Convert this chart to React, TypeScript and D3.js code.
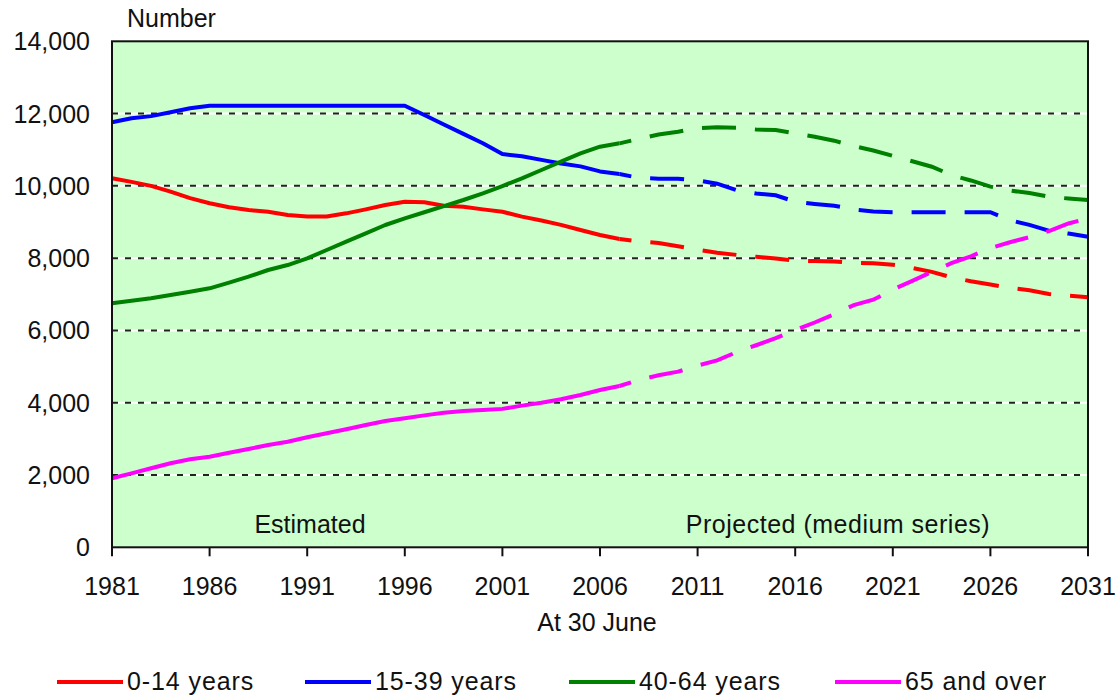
import React from "react";
import * as d3 from "d3";

const estYears = [1981,1982,1983,1984,1985,1986,1987,1988,1989,1990,1991,1992,1993,1994,1995,1996,1997,1998,1999,2000,2001,2002,2003,2004,2005,2006,2007];
const projYears = [2007,2008,2009,2010,2011,2012,2013,2014,2015,2016,2017,2018,2019,2020,2021,2022,2023,2024,2025,2026,2027,2028,2029,2030,2031];

const est0_14 = [10210,10110,10000,9840,9660,9520,9410,9330,9285,9195,9150,9150,9240,9350,9470,9560,9545,9450,9420,9350,9285,9150,9040,8920,8780,8640,8530];
const est15_39 = [11760,11870,11930,12035,12146,12218,12218,12218,12218,12218,12218,12218,12218,12218,12218,12218,11960,11700,11440,11180,10880,10820,10720,10620,10540,10400,10330];
const est40_64 = [6750,6823,6890,6980,7072,7165,7322,7488,7672,7810,7995,8226,8455,8687,8917,9102,9270,9440,9609,9794,9996,10209,10439,10669,10900,11084,11177];
const est65 = [1910,2047,2186,2324,2435,2507,2617,2720,2830,2922,3043,3154,3265,3384,3494,3569,3650,3720,3770,3800,3830,3920,4000,4095,4214,4352,4463];

const proj0_14 = [8530,8460,8420,8330,8230,8150,8090,8040,7990,7930,7920,7910,7870,7860,7820,7730,7620,7470,7360,7270,7180,7110,7010,6960,6920];
const proj15_39 = [10330,10220,10200,10200,10155,10060,9880,9790,9740,9560,9500,9450,9350,9290,9270,9270,9270,9270,9270,9270,9050,8920,8760,8680,8590];
const proj40_64 = [11177,11300,11420,11500,11600,11620,11610,11560,11545,11450,11360,11250,11100,10980,10830,10680,10530,10300,10150,9980,9870,9800,9700,9650,9610];
const proj65 = [4463,4630,4760,4860,5030,5170,5400,5590,5790,6010,6220,6450,6700,6850,7130,7370,7620,7860,8050,8280,8440,8580,8750,8960,9100];

const seriesNames = ["0-14 years", "15-39 years", "40-64 years", "65 and over"];
const seriesColors = ["#ff0000", "#0000ff", "#008000", "#ff00ff"];
const estSeries = [est0_14, est15_39, est40_64, est65];
const projSeries = [proj0_14, proj15_39, proj40_64, proj65];

const xTicks = [1981,1986,1991,1996,2001,2006,2011,2016,2021,2026,2031];
const yTicks = [0,2000,4000,6000,8000,10000,12000,14000];
const yGrid = [2000,4000,6000,8000,10000,12000];

const FONT = "'Liberation Sans', Arial, sans-serif";

export default function App() {
  const x = d3.scaleLinear().domain([1981, 2031]).range([112, 1088]);
  const y = d3.scaleLinear().domain([0, 14000]).range([547.3, 41.3]);
  const fmt = d3.format(",");

  const mkLine = (years: number[]) =>
    d3.line<number>().x((_, i) => x(years[i])).y((d) => y(d));

  const legendX = [57, 305, 569, 835];

  return (
    <svg width={1115} height={698} style={{ position: "absolute", left: 0, top: 0, background: "#fff" }}
      fontFamily={FONT}>
      <rect x={x(1981)} y={y(14000)} width={x(2031) - x(1981)} height={y(0) - y(14000)} fill="#ccffcc" />
      {yGrid.map((v) => (
        <g key={v}>
          <line x1={x(1981)} x2={x(2031)} y1={y(v)} y2={y(v)} stroke="#fff" strokeWidth={2} />
          <line x1={x(1981)} x2={x(2031)} y1={y(v)} y2={y(v)} stroke="#222" strokeWidth={2} strokeDasharray="6,7" />
        </g>
      ))}
      <text x={310} y={533} fontSize={25} textAnchor="middle" fill="#111">Estimated</text>
      <text x={838} y={533} fontSize={25} textAnchor="middle" fill="#111" letterSpacing={0.5}>Projected (medium series)</text>
      {estSeries.map((s, i) => (
        <path key={"e" + i} d={mkLine(estYears)(s) || ""} fill="none" stroke={seriesColors[i]} strokeWidth={4} strokeLinejoin="round" />
      ))}
      {projSeries.map((s, i) => (
        <path key={"p" + i} d={mkLine(projYears)(s) || ""} fill="none" stroke={seriesColors[i]} strokeWidth={4}
          strokeDasharray="34,19" strokeDashoffset={22} />
      ))}
      <rect x={x(1981)} y={y(14000)} width={x(2031) - x(1981)} height={y(0) - y(14000)} fill="none" stroke="#111" strokeWidth={2} />
      {xTicks.map((t) => (
        <g key={t}>
          <line x1={x(t)} x2={x(t)} y1={y(0)} y2={y(0) + 9} stroke="#111" strokeWidth={2} />
          <text x={x(t)} y={595} fontSize={25} textAnchor="middle" fill="#111">{t}</text>
        </g>
      ))}
      {yTicks.map((v) => (
        <text key={v} x={90} y={y(v) + 9} fontSize={25} textAnchor="end" fill="#111">{fmt(v)}</text>
      ))}
      <text x={127} y={27} fontSize={25} fill="#111">Number</text>
      <text x={597} y={631} fontSize={25} textAnchor="middle" fill="#111">At 30 June</text>
      {seriesNames.map((n, i) => (
        <g key={n}>
          <line x1={legendX[i]} x2={legendX[i] + 66} y1={682} y2={682} stroke={seriesColors[i]} strokeWidth={4} />
          <text x={legendX[i] + 70} y={690} fontSize={25} fill="#111" letterSpacing={0.9}>{n}</text>
        </g>
      ))}
    </svg>
  );
}
